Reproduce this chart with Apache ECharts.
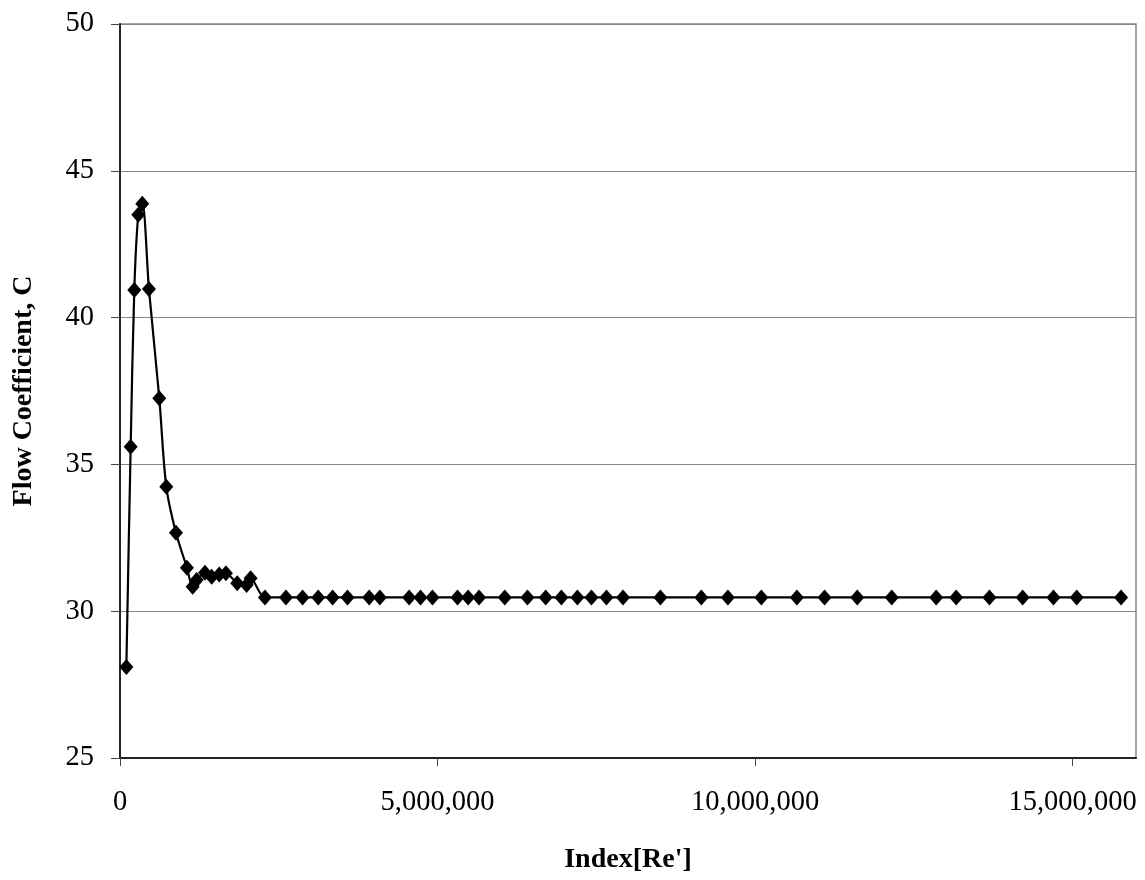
<!DOCTYPE html>
<html>
<head>
<meta charset="utf-8">
<script src="https://cdn.jsdelivr.net/npm/echarts@6/dist/echarts.min.js"></script>
<style>
  html, body { margin: 0; padding: 0; background: #fff; }
  #chart { width: 1145px; height: 880px; }
</style>
</head>
<body>
<div id="chart"></div>
<script>
// Index[Re'] values
const reIndex = [
  100000, 168000, 225000, 288000, 351000, 456000, 619000, 729000, 881000, 1054000,
  1144000, 1207000, 1338000, 1443000, 1563000, 1668000, 1846000, 1994000, 2057000,
  2282000, 2613000, 2875000, 3121000, 3348000, 3583000, 3924000, 4092000, 4553000,
  4732000, 4921000, 5315000, 5482000, 5655000, 6059000, 6416000, 6704000, 6951000,
  7203000, 7424000, 7660000, 7921000, 8510000, 9155000, 9573000, 10099000, 10659000,
  11095000, 11610000, 12154000, 12853000, 13168000, 13692000, 14216000, 14700000,
  15066000, 15765000
];

// Flow coefficient C at each index
const flowCoef = [
  28.1, 35.6, 40.94, 43.5, 43.88, 40.97, 37.25, 34.24, 32.67, 31.48,
  30.83, 31.06, 31.31, 31.17, 31.25, 31.29, 30.95, 30.89, 31.12,
  30.47, 30.47, 30.47, 30.47, 30.47, 30.47, 30.47, 30.47, 30.47,
  30.47, 30.47, 30.47, 30.47, 30.47, 30.47, 30.47, 30.47, 30.47,
  30.47, 30.47, 30.47, 30.47, 30.47, 30.47, 30.47, 30.47, 30.47,
  30.47, 30.47, 30.47, 30.47, 30.47, 30.47, 30.47, 30.47,
  30.47, 30.47
];

const xTicks = [0, 5000000, 10000000, 15000000];

const FONT = "'Liberation Serif', 'Times New Roman', serif";

const points = reIndex.map((x, i) => [x, flowCoef[i]]);

const chart = echarts.init(document.getElementById('chart'));
chart.setOption({
  animation: false,
  backgroundColor: '#fff',
  grid: {
    left: 120, top: 24, right: 9, bottom: 122,
    show: true,
    borderColor: '#888',
    borderWidth: 1.5,
    backgroundColor: 'transparent'
  },
  xAxis: {
    type: 'value',
    min: 0,
    max: 16000000,
    interval: 5000000,
    name: "Index[Re']",
    nameLocation: 'middle',
    nameGap: 88,
    nameTextStyle: { fontFamily: FONT, fontSize: 28, fontWeight: 'bold', color: '#000' },
    axisLine: { show: true, onZero: false, lineStyle: { color: '#222', width: 2 } },
    axisTick: { show: true, inside: false, length: 8, customValues: xTicks, lineStyle: { color: '#444', width: 1 } },
    axisLabel: {
      customValues: xTicks,
      margin: 30,
      fontFamily: FONT, fontSize: 28.5, color: '#000',
      formatter: v => Number(v).toLocaleString('en-US')
    },
    splitLine: { show: false }
  },
  yAxis: {
    type: 'value',
    min: 25,
    max: 50,
    interval: 5,
    name: 'Flow Coefficient, C',
    nameLocation: 'middle',
    nameGap: 82,
    nameTextStyle: { fontFamily: FONT, fontSize: 28, fontWeight: 'bold', color: '#000' },
    axisLine: { show: true, lineStyle: { color: '#222', width: 2 } },
    axisTick: { show: true, inside: false, length: 9, lineStyle: { color: '#444', width: 1 } },
    axisLabel: {
      margin: 26,
      fontFamily: FONT, fontSize: 28.5, color: '#000',
      formatter: v => String(v)
    },
    splitLine: { show: true, lineStyle: { color: '#888', width: 1.2 } }
  },
  series: [{
    type: 'line',
    data: points,
    smooth: 0.3,
    symbol: 'diamond',
    symbolSize: [14, 16],
    lineStyle: { color: '#000', width: 2.2 },
    itemStyle: { color: '#000' },
    z: 5
  }]
});
</script>
</body>
</html>
